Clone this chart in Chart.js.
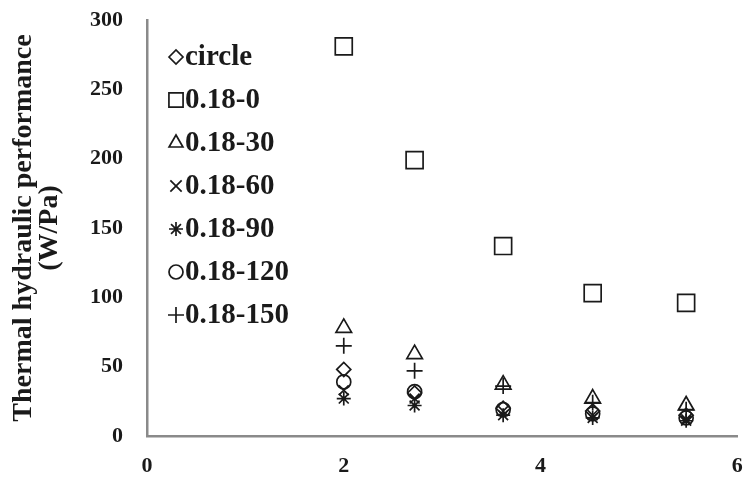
<!DOCTYPE html>
<html>
<head>
<meta charset="utf-8">
<script src="https://cdn.jsdelivr.net/npm/chart.js@4.4.1/dist/chart.umd.min.js"></script>
<style>
  html, body { margin: 0; padding: 0; background: #fff; overflow: hidden; }
  #wrap { width: 744px; height: 482px; overflow: hidden; }
</style>
</head>
<body>
<div id="wrap"><canvas id="thpChart" width="751" height="482"></canvas></div>
<script>
// x positions of the measurements
const xValues = [2.0, 2.72, 3.62, 4.53, 5.48];

// thermal hydraulic performance (W/Pa) per geometry
const circleVals = [48, 31, 20, 18, 15];
const s18_0 = [281, 199, 137, 103, 96];
const s18_30 = [78, 59, 37, 27, 22];
const s18_60 = [33, 27, 18, 15, 12];
const s18_90 = [27, 22, 15, 13, 11];
const s18_120 = [39, 32, 19, 16, 13];
const s18_150 = [65, 47, 36, 24, 19];

const seriesNames = ['circle', '0.18-0', '0.18-30', '0.18-60', '0.18-90', '0.18-120', '0.18-150'];
const seriesVals = [circleVals, s18_0, s18_30, s18_60, s18_90, s18_120, s18_150];
const markerStyles = ['rectRot', 'rect', 'triangle', 'crossRot', 'star', 'circle', 'cross'];
const markerSizes = [7, 12, 9, 7, 7, 7, 8];
const legendSizes = [7, 10, 8, 8, 7, 7, 8];

const xTicks = [0, 2, 4, 6];
const yTicks = [0, 50, 100, 150, 200, 250, 300];

const serif = "'Liberation Serif', 'Times New Roman', serif";
const ink = '#1a1a1a';

const datasets = seriesNames.map((name, i) => ({
  label: name,
  data: xValues.map((x, j) => ({ x: x, y: seriesVals[i][j] })),
  showLine: false,
  pointStyle: markerStyles[i],
  pointRadius: markerSizes[i],
  pointHoverRadius: markerSizes[i],
  pointBorderWidth: 1.7,
  pointBorderColor: ink,
  pointBackgroundColor: 'rgba(0,0,0,0)'
}));

// legend drawn inside the plot, one entry per row
const insideLegend = {
  id: 'insideLegend',
  afterDraw(chart) {
    const ctx = chart.ctx;
    const area = chart.chartArea;
    const left = area.left + 29;
    const top = area.top + 37;
    const rowGap = 43;
    ctx.save();
    ctx.font = 'bold 29px ' + serif;
    ctx.textBaseline = 'middle';
    ctx.textAlign = 'left';
    chart.data.datasets.forEach((ds, i) => {
      const y = top + i * rowGap;
      ctx.strokeStyle = ink;
      ctx.fillStyle = 'rgba(0,0,0,0)';
      ctx.lineWidth = 1.7;
      Chart.helpers.drawPoint(ctx, {
        pointStyle: ds.pointStyle,
        radius: legendSizes[i],
        rotation: 0,
        borderWidth: 1.7
      }, left, y);
      ctx.fillStyle = ink;
      ctx.fillText(ds.label, left + 9, y + 1);
    });
    ctx.restore();
  }
};

new Chart(document.getElementById('thpChart').getContext('2d'), {
  type: 'scatter',
  data: { datasets: datasets },
  options: {
    responsive: false,
    animation: false,
    layout: { padding: { top: 20, right: 0, left: 0, bottom: 0 } },
    plugins: {
      legend: { display: false },
      tooltip: { enabled: false }
    },
    scales: {
      x: {
        type: 'linear',
        min: 0,
        max: 6,
        afterBuildTicks: (axis) => { axis.ticks = xTicks.map(v => ({ value: v })); },
        afterFit: (scale) => {
          scale.height = 46;
          scale.paddingLeft = 0;
          scale.paddingRight = 0;
        },
        grid: { display: false, drawTicks: false },
        border: { display: true, color: '#8a8a8a', width: 2.5 },
        ticks: {
          color: ink,
          padding: 17,
          font: { family: serif, size: 22, weight: 'bold' }
        }
      },
      y: {
        min: 0,
        max: 300,
        afterBuildTicks: (axis) => { axis.ticks = yTicks.map(v => ({ value: v })); },
        afterFit: (scale) => {
          scale.width = 147;
          scale.paddingTop = 0;
          scale.paddingBottom = 0;
        },
        grid: { display: false, drawTicks: false },
        border: { display: true, color: '#8a8a8a', width: 2.5 },
        ticks: {
          color: ink,
          padding: 24,
          font: { family: serif, size: 22, weight: 'bold' }
        },
        title: {
          display: true,
          text: ['Thermal hydraulic performance', '(W/Pa)'],
          color: ink,
          padding: { top: 10, bottom: 0 },
          font: { family: serif, size: 28, weight: 'bold', lineHeight: 0.95 }
        }
      }
    }
  },
  plugins: [insideLegend]
});
</script>
</body>
</html>
